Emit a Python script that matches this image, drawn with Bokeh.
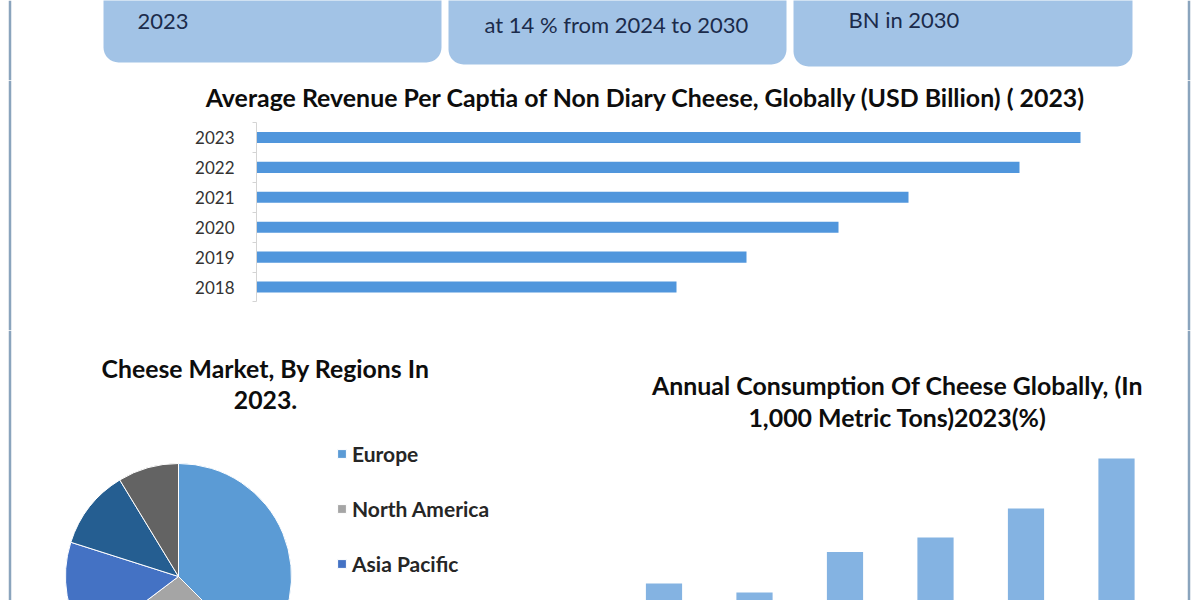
import math
from bokeh.plotting import figure
from bokeh.models import (Range1d, LinearAxis, FixedTicker, Label, BoxAnnotation,
                          Span, ColumnDataSource, Legend, LegendItem)
from bokeh.layouts import column, row
from bokeh.embed import file_html
from bokeh.resources import INLINE

# ---------------- data ----------------
box_texts = ["2023", "at 14 % from 2024 to 2030", "BN in 2030"]

rev_title = "Average Revenue Per Captia of Non Diary Cheese, Globally (USD Billion) ( 2023)"
rev_years = ["2018", "2019", "2020", "2021", "2022", "2023"]
rev_values = [4.20, 4.90, 5.82, 6.52, 7.63, 8.24]

pie_title = ["Cheese Market, By Regions In", "2023."]
regions = ["Europe", "North America", "Asia Pacific", "Middle East & Africa", "South America"]
region_share = [37.5, 27.2, 15.2, 11.4, 8.7]
region_colors = ["#5b9bd5", "#a5a5a5", "#4472c4", "#255e91", "#636363"]
legend_shown = 3   # the picture is cropped below the third legend entry

cons_title = ["Annual Consumption Of Cheese Globally, (In", "1,000 Metric Tons)2023(%)"]
cons_years = ["2018", "2019", "2020", "2021", "2022", "2023"]
cons_values = [97, 88, 128.5, 143, 172, 222]

# ---------------- styles ----------------
W, H = 1200, 600
BORDER = "#8aa4bd"
BOX_FILL = "#a2c3e6"
TXT_DARK = "#1b2b4b"
TITLE_COL = "#0d0d0d"
SHIFT = 9   # label baseline correction (px)


def base_fig(w, h, xr, yr):
    p = figure(width=w, height=h, x_range=Range1d(*xr), y_range=Range1d(*yr),
               output_backend="svg", toolbar_location=None,
               x_axis_location=None, y_axis_location=None, min_border=0)
    p.xgrid.visible = False
    p.ygrid.visible = False
    p.outline_line_color = None
    p.background_fill_color = "white"
    p.border_fill_color = "white"
    return p

# ---------------- top boxes (pixel-like coordinates) ----------------
A_BOT = 80
pa = base_fig(W, A_BOT, (0, W), (-A_BOT, 0))
boxes = [(103, 441, 62), (448, 786, 64), (793, 1132, 66)]
for (l, r, b) in boxes:
    pa.add_layout(BoxAnnotation(left=l, right=r, top=40, bottom=-b, fill_color=BOX_FILL,
                                fill_alpha=1, line_color=None, border_radius=15))
text_pos = [(137, 30), (484, 33), (848, 28)]
for t, (x, y) in zip(box_texts, text_pos):
    pa.add_layout(Label(x=x, y=-(y - SHIFT), text=t, text_font="Lato", text_font_size="22px",
                        text_color=TXT_DARK, text_baseline="alphabetic", text_align="left"))
pa.add_layout(Span(location=9.5, dimension="height", line_color=BORDER, line_width=2.5))
pa.add_layout(Span(location=1188.5, dimension="height", line_color=BORDER, line_width=2.5))

# ---------------- horizontal bar chart ----------------
X0, SX = 256.0, 100.0       # value 0 at pixel 256, 100 px per unit
Y0, SY = 286.5, 29.9        # first category centre at pixel 286.5
B_TOP, B_BOT = A_BOT, 330
pb = base_fig(W, B_BOT - B_TOP, ((0 - X0) / SX, (W - X0) / SX),
              ((Y0 - B_BOT) / SY, (Y0 - B_TOP) / SY))
idx = list(range(len(rev_years)))
src_b = ColumnDataSource(dict(y=idx, v=rev_values, year=rev_years))
pb.hbar(y="y", right="v", left=0, height=0.37, source=src_b,
        fill_color="#5096dc", line_color=None)

tick_axis = LinearAxis(fixed_location=0,
                       ticker=FixedTicker(ticks=[i - 0.5 for i in range(len(idx) + 1)]),
                       bounds=(-0.5, len(idx) - 0.5),
                       axis_line_color="#d4d4d4", major_tick_line_color="#d4d4d4",
                       major_tick_out=4, major_tick_in=0, minor_tick_line_color=None,
                       major_label_text_color=None)
lab_axis = LinearAxis(fixed_location=0, ticker=FixedTicker(ticks=idx),
                      major_label_overrides={i: y for i, y in zip(idx, rev_years)},
                      axis_line_color=None, major_tick_line_color=None,
                      minor_tick_line_color=None, major_tick_out=0, major_tick_in=0,
                      major_label_standoff=22, major_label_text_font="Lato",
                      major_label_text_font_size="17px", major_label_text_color="#333333")
pb.add_layout(tick_axis, "left")
pb.add_layout(lab_axis, "left")
pb.add_layout(Label(x=(645.5 - X0) / SX, y=(Y0 - (105 - SHIFT)) / SY, text=rev_title,
                    text_font="Lato", text_font_style="bold",
                    text_font_size="24.9px", text_color=TITLE_COL,
                    text_align="center", text_baseline="alphabetic"))
pb.add_layout(Span(location=(9.5 - X0) / SX, dimension="height", line_color=BORDER, line_width=2.5))
pb.add_layout(Span(location=(1188.5 - X0) / SX, dimension="height", line_color=BORDER, line_width=2.5))

# ---------------- pie chart ----------------
CX, CY, R = 178.0, 576.0, 113.0
C_TOP = B_BOT
C_H = H - C_TOP
pc = base_fig(600, C_H, (0 - CX, 600 - CX), (CY - H, CY - C_TOP))
total = float(sum(region_share))
starts, ends = [], []
acc = 0.0
for s in region_share:
    starts.append(math.pi / 2 - 2 * math.pi * acc / total)
    acc += s
    ends.append(math.pi / 2 - 2 * math.pi * acc / total)
src_c = ColumnDataSource(dict(region=regions, share=region_share, color=region_colors,
                              start=starts, end=ends))
wedges = pc.wedge(x=0, y=0, radius=R, start_angle="start", end_angle="end",
                  direction="clock", fill_color="color", line_color="white",
                  line_width=1, source=src_c)
items = [LegendItem(label=regions[i], renderers=[wedges], index=i) for i in range(legend_shown)]
ITEM_H, SPACING = 24, 30
leg_h = legend_shown * ITEM_H + (legend_shown - 1) * SPACING
leg_top = 456 - C_TOP - ITEM_H / 2
lg = Legend(items=items, location=(336, C_H - (leg_top + leg_h)), padding=0, margin=0,
            spacing=SPACING, glyph_width=11, glyph_height=11, label_height=22,
            label_standoff=5, border_line_color=None, background_fill_alpha=0,
            label_text_font="Lato", label_text_font_style="bold",
            label_text_font_size="21px", label_text_color="#262626")
pc.add_layout(lg, "center")
for t, yb in zip(pie_title, [377, 408]):
    pc.add_layout(Label(x=265 - CX, y=CY - (yb - SHIFT), text=t, text_font="Lato",
                        text_font_style="bold", text_font_size="24.8px", text_color=TITLE_COL,
                        text_align="center", text_baseline="alphabetic"))
pc.add_layout(Span(location=9.5 - CX, dimension="height", line_color=BORDER, line_width=2.5))

# ---------------- vertical bar chart ----------------
VX0, VSX, VB = 663.5, 90.5, 680.0
pd_ = base_fig(600, C_H, ((600 - VX0) / VSX, (W - VX0) / VSX), (VB - H, VB - C_TOP))
cidx = list(range(len(cons_years)))
src_d = ColumnDataSource(dict(x=cidx, v=cons_values, year=cons_years))
pd_.vbar(x="x", top="v", bottom=0, width=0.4, source=src_d,
         fill_color="#84b3e2", line_color=None)
for t, yb in zip(cons_title, [393, 425]):
    pd_.add_layout(Label(x=(897 - VX0) / VSX, y=VB - (yb - SHIFT), text=t, text_font="Lato",
                         text_font_style="bold", text_font_size="24.9px", text_color=TITLE_COL,
                         text_align="center", text_baseline="alphabetic"))
pd_.add_layout(Span(location=(1188.5 - VX0) / VSX, dimension="height", line_color=BORDER, line_width=2.5))

layout = column(pa, pb, row(pc, pd_, spacing=0), spacing=0)

open("out.html", "w").write(file_html(layout, INLINE))
